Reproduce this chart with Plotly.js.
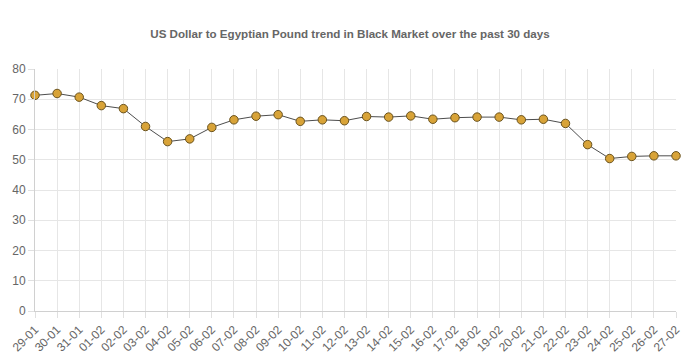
<!DOCTYPE html>
<html>
<head>
<meta charset="utf-8">
<script src="https://cdn.plot.ly/plotly-3.0.1.min.js"></script>
<style>html,body{margin:0;padding:0;background:#fff;}#chart{width:700px;height:363px;}</style>
</head>
<body>
<div id="chart"></div>
<script>
const dates = ["29-01","30-01","31-01","01-02","02-02","03-02","04-02","05-02","06-02","07-02","08-02","09-02","10-02","11-02","12-02","13-02","14-02","15-02","16-02","17-02","18-02","19-02","20-02","21-02","22-02","23-02","24-02","25-02","26-02","27-02"];
const rates = [71.3,71.9,70.7,67.9,66.9,61.0,56.0,56.9,60.7,63.2,64.4,64.9,62.7,63.2,62.9,64.3,64.1,64.5,63.4,63.9,64.1,64.1,63.2,63.4,62.0,55.0,50.4,51.1,51.3,51.3];
const yTicks = [0,10,20,30,40,50,60,70,80];
const titleText = "US Dollar to Egyptian Pound trend in Black Market over the past 30 days";

const trace = {
  x: dates.map((d,i)=>i),
  y: rates,
  type: 'scatter',
  mode: 'lines+markers',
  cliponaxis: false,
  line: {color: '#4d4d4d', width: 1},
  marker: {size: 8.5, color: 'rgb(216,163,56)', line: {color: 'rgb(105,82,30)', width: 1}},
  hoverinfo: 'x+y'
};

const layout = {
  width: 700, height: 363,
  margin: {l: 35, r: 24, t: 69, b: 52},
  paper_bgcolor: '#fff', plot_bgcolor: '#fff',
  showlegend: false,
  title: {text: '<b>' + titleText + '</b>', x: 0.5, xanchor: 'center', y: 0.907, yanchor: 'middle',
    font: {family: 'Liberation Sans, Arial, sans-serif', size: 11.6, color: '#666'}},
  xaxis: {
    range: [0, dates.length - 1],
    tickmode: 'array', tickvals: dates.map((d,i)=>i), ticktext: dates,
    tickangle: -45,
    showgrid: true, gridcolor: '#e6e6e6', gridwidth: 1,
    ticks: 'outside', ticklen: 6, tickcolor: '#e0e0e0',
    showline: true, linecolor: '#d0d0d0', linewidth: 1,
    zeroline: false,
    tickfont: {family: 'Liberation Sans, Arial, sans-serif', size: 12, color: '#666'},
    fixedrange: true
  },
  yaxis: {
    range: [0, 80],
    tickmode: 'array', tickvals: yTicks,
    showgrid: true, gridcolor: '#e6e6e6', gridwidth: 1,
    ticks: 'outside', ticklen: 6, tickcolor: '#e0e0e0',
    showline: true, linecolor: '#d0d0d0', linewidth: 1,
    zeroline: false,
    tickfont: {family: 'Liberation Sans, Arial, sans-serif', size: 12, color: '#666'},
    fixedrange: true
  }
};

Plotly.newPlot('chart', [trace], layout, {displayModeBar: false, staticPlot: false});
</script>
</body>
</html>
